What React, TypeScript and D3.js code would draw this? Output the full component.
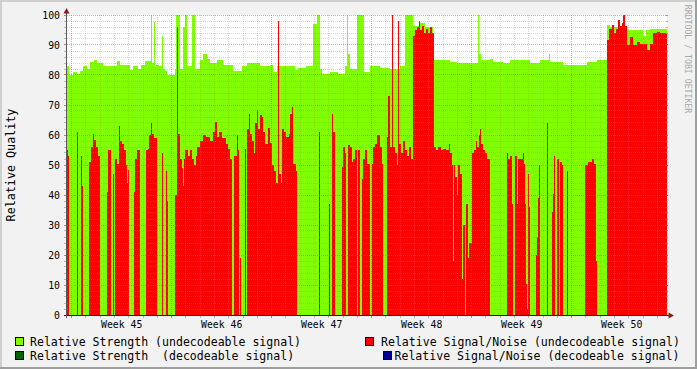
import React from "react";
import * as d3 from "d3";

// ---- data (sample index = one time step, value) ----
const yTicks = [0, 10, 20, 30, 40, 50, 60, 70, 80, 90, 100];
const weekNumbers = [45, 46, 47, 48, 49, 50];

const legendLeft = [
  { label: "Relative Strength (undecodeable signal)", color: "#7FFF00" },
  { label: "Relative Strength  (decodeable signal)", color: "#006400" },
];
const legendRight = [
  { label: "Relative Signal/Noise (undecodeable signal)", color: "#FF0000" },
  { label: "Relative Signal/Noise (decodeable signal)", color: "#000099" },
];

// run-length steps: [sample index, value] (value holds until next step)
const strengthSteps: [number, number][] = [
  [0, 83], [2, 80], [6, 81], [10, 80.5], [13, 81.5], [16, 83], [20, 82], [23, 84.5], [27, 85], [30, 84],
  [36, 83], [50, 84.7], [53, 83.3], [63, 81.7], [66, 83], [71, 82], [74, 83.5], [78, 84.8], [84, 100], [85, 84],
  [87, 97.8], [88, 83.5], [92, 83], [95, 93], [96, 82], [98, 81.5], [100, 80], [108, 82], [109, 100], [113, 82],
  [116, 96], [118, 100], [120, 83], [125, 100], [128, 82], [133, 85], [136, 87], [140, 85.5], [143, 84], [150, 85],
  [156, 83.5], [166, 81.5], [175, 83], [180, 84], [193, 83], [203, 83.5], [206, 81], [210, 83], [228, 81.7], [231, 82.5],
  [239, 83], [246, 97], [250, 100], [253, 82], [255, 80.5], [263, 81], [271, 80.5], [278, 83], [280, 100], [281, 87],
  [283, 82], [290, 100], [297, 81], [303, 83], [313, 82.5], [323, 82], [333, 83], [338, 100], [346, 96.5], [353, 97.5],
  [358, 96], [366, 85], [383, 84.5], [390, 84], [411, 100], [412, 87], [414, 85], [423, 85.5], [426, 84.5], [436, 84],
  [443, 85], [463, 84], [473, 85], [482, 87], [483, 84.5], [496, 83.5], [520, 84.5], [530, 85], [540, 96.7], [543, 96],
  [558, 95], [576, 93], [579, 95], [583, 95.5],
];

const snrSteps: [number, number][] = [
  [0, 55], [1, 53], [2, 0], [10, 61], [11, 0], [14, 53], [15, 43], [16, 0], [22, 51], [24, 56],
  [26, 60.5], [27, 58.5], [29, 56], [31, 53], [33, 0], [40, 41], [41, 55], [44, 0], [46, 47], [47, 0],
  [48, 52], [50, 50.5], [52, 63], [53, 58], [55, 57], [57, 55], [59, 50], [60, 44], [61, 48.5], [62, 0],
  [67, 41], [68, 52], [70, 55], [73, 0], [79, 55], [81, 55.5], [82, 60], [84, 64], [85, 60.5], [87, 59],
  [90, 0], [95, 54], [96, 0], [99, 48], [100, 38], [101, 0], [108, 40], [110, 96], [111, 60.5], [113, 52],
  [115, 49], [116, 43], [117, 52], [118, 55], [121, 53], [123, 55], [125, 52], [127, 50], [129, 53], [130, 56],
  [133, 58], [136, 60], [139, 59.5], [143, 58], [146, 61], [148, 64.5], [150, 59.5], [152, 61], [155, 59], [159, 57],
  [161, 55.5], [163, 52], [165, 0], [167, 53], [170, 60], [171, 55], [172, 0], [173, 19], [174, 0], [178, 55.5],
  [179, 0], [180, 62], [182, 67], [183, 60.5], [185, 58], [187, 54], [188, 64], [190, 68.5], [191, 62], [193, 66.7],
  [195, 66], [196, 61], [198, 57], [201, 62.5], [203, 57.5], [205, 50], [207, 48], [209, 44], [211, 98], [212, 47],
  [214, 44], [215, 62], [217, 61], [219, 59.5], [222, 60.5], [223, 67], [225, 69.5], [226, 50.5], [229, 48], [230, 0],
  [252, 61], [253, 0], [262, 37], [263, 0], [265, 67], [266, 61], [268, 0], [275, 49.5], [276, 56], [278, 54],
  [279, 0], [281, 56.7], [283, 56], [285, 51], [286, 52], [288, 55], [290, 0], [291, 55], [293, 0], [295, 45.5],
  [296, 52], [298, 55], [300, 50.5], [303, 0], [305, 50.5], [306, 56], [308, 57], [310, 60], [313, 56], [315, 50.5],
  [316, 0], [320, 59.5], [321, 73], [323, 56], [325, 100], [326, 56], [328, 54], [330, 50], [331, 98], [332, 57],
  [334, 54], [336, 58], [338, 55], [340, 53], [342, 56], [344, 52], [346, 93], [348, 95], [350, 96], [352, 98],
  [353, 95], [355, 96.5], [357, 94], [359, 95.5], [361, 94], [363, 96], [365, 94], [367, 56], [369, 55], [371, 56],
  [374, 55], [376, 55.5], [379, 55], [382, 57], [383, 54], [385, 50], [386, 18], [387, 50], [388, 46], [390, 40],
  [391, 50], [393, 47], [395, 12], [396, 30], [398, 0], [399, 37], [401, 19], [402, 24], [405, 54], [407, 55],
  [409, 58], [410, 56], [412, 60], [413, 62], [414, 57], [416, 55], [418, 54], [420, 52], [423, 0], [440, 54],
  [441, 52], [443, 53], [445, 37], [446, 0], [448, 53], [450, 37], [451, 52], [456, 54], [457, 50.5], [458, 37],
  [459, 10.5], [460, 2], [461, 47], [462, 36], [463, 0], [469, 20], [470, 26], [471, 39], [472, 50], [473, 0],
  [480, 64], [481, 0], [485, 34.5], [486, 40.5], [487, 53], [488, 0], [490, 52], [492, 0], [493, 51], [495, 50],
  [496, 0], [500, 48], [501, 0], [518, 50], [521, 51], [525, 52], [527, 50.5], [529, 18], [530, 0], [540, 91.7],
  [542, 95.5], [545, 96.7], [547, 94], [549, 95.5], [551, 98.3], [553, 96.5], [555, 97.5], [556, 100], [558, 96.5],
  [560, 90], [563, 92.8], [566, 90], [570, 91], [573, 90.5], [580, 88.3], [583, 90.5], [586, 94], [590, 94.5], [593, 94],
];

// ---- layout ----
const W = 697;
const H = 369;
const X0 = 67;
const X1 = 667;
const Y0 = 315;
const Y1 = 15;
const N = 600;
const START = Date.UTC(2010, 10, 7, 16, 6);
const END = START + 42 * 864e5;
const STEP = (END - START) / N;
const FONT = "'DejaVu Sans Mono', monospace";
const CHAR_W = 6.95;

function decode(steps: [number, number][]): number[] {
  const out: number[] = [];
  let k = 0;
  for (let i = 0; i <= N; i++) {
    while (k + 1 < steps.length && steps[k + 1][0] <= i) k++;
    out.push(steps[k][1]);
  }
  return out;
}

export default function App() {
  const x = d3.scaleUtc().domain([new Date(START), new Date(END)]).range([X0, X1]);
  const y = d3.scaleLinear().domain([0, 100]).range([Y0, Y1]);
  const strength = decode(strengthSteps);
  const snr = decode(snrSteps);
  const area = d3
    .area<number>()
    .x((_, i) => x(new Date(START + i * STEP)))
    .y0(y(0))
    .y1((d) => y(d))
    .curve(d3.curveStepAfter);

  const minorY = d3.range(0, 101, 2).filter((v) => v % 10 !== 0);
  const days = d3.utcDay.range(new Date(START), new Date(END)).filter((d) => d.getUTCDay() !== 1);
  const mondays = d3.utcMonday.range(new Date(START), new Date(END));
  const px = (v: number) => Math.floor(v) + 0.5;

  return (
    <svg width={W} height={H} style={{ position: "absolute", left: 0, top: 0, display: "block" }}>
      <style>{`body{margin:0}`}</style>
      <rect x={0} y={0} width={W} height={H} fill="#F2F2F2" />
      <rect x={0} y={0} width={W} height={2} fill="#CFCFCF" />
      <rect x={0} y={0} width={2} height={H} fill="#CFCFCF" />
      <rect x={0} y={H - 2} width={W} height={2} fill="#9E9E9E" />
      <rect x={W - 2} y={0} width={2} height={H} fill="#9E9E9E" />
      <rect x={X0} y={Y1} width={X1 - X0} height={Y0 - Y1} fill="#FFFFFF" />

      <path d={area(strength) ?? ""} fill="#7FFF00" shapeRendering="crispEdges" />
      <path d={area(snr) ?? ""} fill="#FF0000" shapeRendering="crispEdges" />

      {/* grid */}
      <g>
        {minorY.map((v) => (
          <g key={"my" + v}>
            <line x1={X0} x2={X1} y1={px(y(v))} y2={px(y(v))} stroke="#8F8F8F" strokeOpacity={0.35} strokeDasharray="1 1" />
            <line x1={X0 - 3} x2={X0} y1={px(y(v))} y2={px(y(v))} stroke="#8F8F8F" strokeOpacity={0.6} />
            <line x1={X1 - 1} x2={X1 + 1} y1={px(y(v))} y2={px(y(v))} stroke="#8F8F8F" strokeOpacity={0.6} />
          </g>
        ))}
        {days.map((d) => (
          <g key={"md" + d.getTime()}>
            <line x1={px(x(d))} x2={px(x(d))} y1={Y1} y2={Y0} stroke="#8F8F8F" strokeOpacity={0.35} strokeDasharray="1 1" />
            <line x1={px(x(d))} x2={px(x(d))} y1={Y0} y2={Y0 + 3} stroke="#8F8F8F" strokeOpacity={0.6} />
          </g>
        ))}
        {yTicks.map((v) => (
          <g key={"My" + v}>
            <line x1={X0} x2={X1} y1={px(y(v))} y2={px(y(v))} stroke="#DE4F4F" strokeOpacity={0.55} strokeDasharray="1 1" />
            <line x1={X0 - 3} x2={X0} y1={px(y(v))} y2={px(y(v))} stroke="#DE4F4F" strokeOpacity={0.8} />
            <line x1={X1 - 1} x2={X1 + 1} y1={px(y(v))} y2={px(y(v))} stroke="#DE4F4F" strokeOpacity={0.8} />
          </g>
        ))}
        {mondays.map((d) => (
          <g key={"Md" + d.getTime()}>
            <line x1={px(x(d))} x2={px(x(d))} y1={Y1} y2={Y0} stroke="#DE4F4F" strokeOpacity={0.55} strokeDasharray="1 1" />
            <line x1={px(x(d))} x2={px(x(d))} y1={Y0} y2={Y0 + 3} stroke="#DE4F4F" strokeOpacity={0.8} />
          </g>
        ))}
      </g>

      {/* axes */}
      <line x1={X0 - 3} x2={X1 + 2} y1={Y0 + 0.5} y2={Y0 + 0.5} stroke="#1F1F2F" />
      <line x1={X0 - 0.5} x2={X0 - 0.5} y1={Y0 + 3} y2={Y1 - 3} stroke="#5A5A5A" />
      <polygon points={`${X0 - 3.5},${Y1 - 1.5} ${X0 + 2.5},${Y1 - 1.5} ${X0 - 0.5},${Y1 - 7}`} fill="#801F1F" />
      <polygon points={`${X1 + 1.5},${Y0 - 2.5} ${X1 + 1.5},${Y0 + 3.5} ${X1 + 7},${Y0 + 0.5}`} fill="#801F1F" />

      {/* y tick labels */}
      {yTicks.map((v) => (
        <text key={"yl" + v} x={60} y={y(v) + 0.5} textAnchor="end" dominantBaseline="central"
          fontFamily={FONT} fontSize={9.8} fill="#000">
          {v}
        </text>
      ))}

      {/* week labels */}
      {mondays.map((d, k) => (
        <text key={"wl" + k} x={x(d3.utcHour.offset(d, 84))} y={324} textAnchor="middle" dominantBaseline="central"
          fontFamily={FONT} fontSize={9.8} fill="#000">
          {`Week ${weekNumbers[k]}`}
        </text>
      ))}

      {/* y title */}
      <text transform="translate(11,165) rotate(-90)" textAnchor="middle" dominantBaseline="central"
        fontFamily={FONT} fontSize={11.5} fill="#000" textLength={16 * 7.05} lengthAdjust="spacingAndGlyphs">
        Relative Quality
      </text>

      {/* watermark */}
      <text transform="translate(687.5,59) rotate(90)" textAnchor="middle" dominantBaseline="central"
        fontFamily={FONT} fontSize={8.2} fill="#A8A8A8">
        RRDTOOL / TOBI OETIKER
      </text>

      {/* legend */}
      {legendLeft.map((l, k) => (
        <g key={"ll" + k}>
          <rect x={15.5} y={337.5 + k * 14} width={8} height={8} fill={l.color} stroke="#000" />
          <text x={30} y={341.5 + k * 14} dominantBaseline="central" fontFamily={FONT} fontSize={11.5}
            fill="#000" style={{ whiteSpace: "pre" }} textLength={l.label.length * CHAR_W} lengthAdjust="spacingAndGlyphs">
            {l.label}
          </text>
        </g>
      ))}
      {legendRight.map((l, k) => (
        <g key={"lr" + k}>
          <rect x={k === 0 ? 365.5 : 383.5} y={337.5 + k * 14} width={8} height={8} fill={l.color} stroke="#000" />
          <text x={k === 0 ? 381 : 394.5} y={341.5 + k * 14} dominantBaseline="central" fontFamily={FONT}
            fontSize={11.5} fill="#000" style={{ whiteSpace: "pre" }} textLength={l.label.length * CHAR_W}
            lengthAdjust="spacingAndGlyphs">
            {l.label}
          </text>
        </g>
      ))}
    </svg>
  );
}
